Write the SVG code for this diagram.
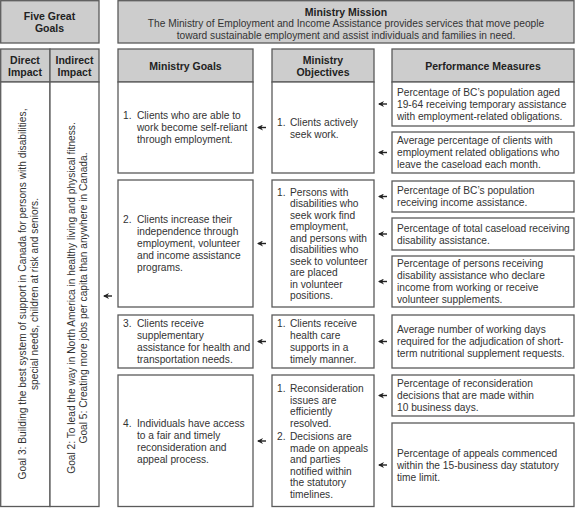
<svg xmlns="http://www.w3.org/2000/svg" width="575" height="508" viewBox="0 0 575 508">
<style>
rect{stroke:#5a5a5a;stroke-width:1.3;fill:#fff}
rect.h{fill:#cdcdcd}
text{font-family:"Liberation Sans",Arial,sans-serif;font-size:10.2px;fill:#333}
text.b{font-weight:bold;font-size:10.5px;fill:#222;text-anchor:middle}
text.c{text-anchor:middle}
.arr path{stroke:#222;stroke-width:1.4;fill:none;marker-end:url(#ah)}
</style>
<defs>
<marker id="ah" viewBox="0 0 6 6" refX="5" refY="3" markerWidth="6" markerHeight="6" markerUnits="userSpaceOnUse" orient="auto">
<path d="M0,0 L6,3 L0,6 L1.8,3 z" fill="#222"/>
</marker>
</defs>
<rect x="0" y="0" width="575" height="508" style="fill:#fff;stroke:none"/>

<g id="five-great-goals">
<rect class="h" x="0.7" y="0.7" width="98.3" height="42.3"/>
<text class="b" x="49.5" y="20">Five Great</text>
<text class="b" x="49.5" y="32">Goals</text>
</g>

<g id="ministry-mission">
<rect class="h" x="118" y="0.7" width="456" height="42.3"/>
<text class="b" x="346" y="15.5">Ministry Mission</text>
<text class="c" x="346" y="27">The Ministry of Employment and Income Assistance provides services that move people</text>
<text class="c" x="346" y="38.5">toward sustainable employment and assist individuals and families in need.</text>
</g>

<g id="direct-impact">
<rect class="h" x="0.7" y="49" width="49.3" height="33"/>
<rect x="0.7" y="82" width="49.3" height="424.5"/>
<text class="b" x="25" y="64">Direct</text>
<text class="b" x="25" y="76">Impact</text>
<text class="c" transform="translate(25.5,294) rotate(-90)">Goal 3: Building the best system of support in Canada for persons with disabilities,</text>
<text class="c" transform="translate(37.5,294) rotate(-90)">special needs, children at risk and seniors.</text>
</g>

<g id="indirect-impact">
<rect class="h" x="50" y="49" width="49" height="33"/>
<rect x="50" y="82" width="49" height="424.5"/>
<text class="b" x="74.5" y="64">Indirect</text>
<text class="b" x="74.5" y="76">Impact</text>
<text class="c" transform="translate(74.5,298) rotate(-90)">Goal 2: To lead the way in North America in healthy living and physical fitness.</text>
<text class="c" transform="translate(86.5,298) rotate(-90)">Goal 5: Creating more jobs per capita than anywhere in Canada.</text>
</g>

<g id="goals-header">
<rect class="h" x="118" y="49" width="135" height="33"/>
<text class="b" x="185.5" y="69.5">Ministry Goals</text>
</g>
<g id="objectives-header">
<rect class="h" x="272" y="49" width="102" height="33"/>
<text class="b" x="323" y="64">Ministry</text>
<text class="b" x="323" y="76">Objectives</text>
</g>
<g id="measures-header">
<rect class="h" x="392" y="49" width="182" height="33"/>
<text class="b" x="483" y="69.5">Performance Measures</text>
</g>

<g id="goal-1">
<rect x="118" y="82" width="135" height="91"/>
<text x="123" y="119">1.</text>
<text x="137" y="119">Clients who are able to</text>
<text x="137" y="131">work become self-reliant</text>
<text x="137" y="143">through employment.</text>
</g>
<g id="goal-2">
<rect x="118" y="180" width="135" height="127"/>
<text x="123" y="223">2.</text>
<text x="137" y="223">Clients increase their</text>
<text x="137" y="235">independence through</text>
<text x="137" y="247">employment, volunteer</text>
<text x="137" y="259">and income assistance</text>
<text x="137" y="271">programs.</text>
</g>
<g id="goal-3">
<rect x="118" y="315" width="135" height="53"/>
<text x="123" y="327">3.</text>
<text x="137" y="327">Clients receive</text>
<text x="137" y="339">supplementary</text>
<text x="137" y="351">assistance for health and</text>
<text x="137" y="363">transportation needs.</text>
</g>
<g id="goal-4">
<rect x="118" y="375" width="135" height="131.5"/>
<text x="123" y="427">4.</text>
<text x="137" y="427">Individuals have access</text>
<text x="137" y="439">to a fair and timely</text>
<text x="137" y="451">reconsideration and</text>
<text x="137" y="463">appeal process.</text>
</g>

<g id="objective-1">
<rect x="272" y="82" width="102" height="91"/>
<text x="277" y="126">1.</text>
<text x="290" y="126">Clients actively</text>
<text x="290" y="138">seek work.</text>
</g>
<g id="objective-2">
<rect x="272" y="180" width="102" height="127"/>
<text x="277" y="195.5">1.</text>
<text x="290" y="195.5">Persons with</text>
<text x="290" y="207">disabilities who</text>
<text x="290" y="218.5">seek work find</text>
<text x="290" y="230">employment,</text>
<text x="290" y="241.5">and persons with</text>
<text x="290" y="253">disabilities who</text>
<text x="290" y="264.5">seek to volunteer</text>
<text x="290" y="276">are placed</text>
<text x="290" y="287.5">in volunteer</text>
<text x="290" y="299">positions.</text>
</g>
<g id="objective-3">
<rect x="272" y="315" width="102" height="53"/>
<text x="277" y="327">1.</text>
<text x="290" y="327">Clients receive</text>
<text x="290" y="339">health care</text>
<text x="290" y="351">supports in a</text>
<text x="290" y="363">timely manner.</text>
</g>
<g id="objective-4">
<rect x="272" y="375" width="102" height="131.5"/>
<text x="277" y="392">1.</text>
<text x="290" y="392">Reconsideration</text>
<text x="290" y="403.5">issues are</text>
<text x="290" y="415">efficiently</text>
<text x="290" y="426.5">resolved.</text>
<text x="277" y="440">2.</text>
<text x="290" y="440">Decisions are</text>
<text x="290" y="451.5">made on appeals</text>
<text x="290" y="463">and parties</text>
<text x="290" y="474.5">notified within</text>
<text x="290" y="486">the statutory</text>
<text x="290" y="497.5">timelines.</text>
</g>

<g id="measure-1">
<rect x="392" y="82" width="182" height="44"/>
<text x="397" y="96">Percentage of BC’s population aged</text>
<text x="397" y="108">19-64 receiving temporary assistance</text>
<text x="397" y="120">with employment-related obligations.</text>
</g>
<g id="measure-2">
<rect x="392" y="132" width="182" height="41"/>
<text x="397" y="144">Average percentage of clients with</text>
<text x="397" y="156">employment related obligations who</text>
<text x="397" y="168">leave the caseload each month.</text>
</g>
<g id="measure-3">
<rect x="392" y="181" width="182" height="31"/>
<text x="397" y="194">Percentage of BC’s population</text>
<text x="397" y="206">receiving income assistance.</text>
</g>
<g id="measure-4">
<rect x="392" y="218" width="182" height="32"/>
<text x="397" y="232">Percentage of total caseload receiving</text>
<text x="397" y="244">disability assistance.</text>
</g>
<g id="measure-5">
<rect x="392" y="256" width="182" height="51"/>
<text x="397" y="267">Percentage of persons receiving</text>
<text x="397" y="279">disability assistance who declare</text>
<text x="397" y="291">income from working or receive</text>
<text x="397" y="303">volunteer supplements.</text>
</g>
<g id="measure-6">
<rect x="392" y="315" width="182" height="53"/>
<text x="397" y="333">Average number of working days</text>
<text x="397" y="345">required for the adjudication of short-</text>
<text x="397" y="357">term nutritional supplement requests.</text>
</g>
<g id="measure-7">
<rect x="392" y="375" width="182" height="41"/>
<text x="397" y="387">Percentage of reconsideration</text>
<text x="397" y="399">decisions that are made within</text>
<text x="397" y="411">10 business days.</text>
</g>
<g id="measure-8">
<rect x="392" y="423" width="182" height="83.5"/>
<text x="397" y="457">Percentage of appeals commenced</text>
<text x="397" y="469">within the 15-business day statutory</text>
<text x="397" y="481">time limit.</text>
</g>

<g id="connectors" class="arr">
<path d="M387,104 H379"/>
<path d="M387,152.5 H379"/>
<path d="M387,196.5 H379"/>
<path d="M387,234 H379"/>
<path d="M387,281.5 H379"/>
<path d="M387,341.5 H379"/>
<path d="M387,395.5 H379"/>
<path d="M387,465 H379"/>
<path d="M266,127.5 H258"/>
<path d="M266,243.5 H258"/>
<path d="M266,341.5 H258"/>
<path d="M266,441 H258"/>
<path d="M112,296 H104"/>
</g>
</svg>
